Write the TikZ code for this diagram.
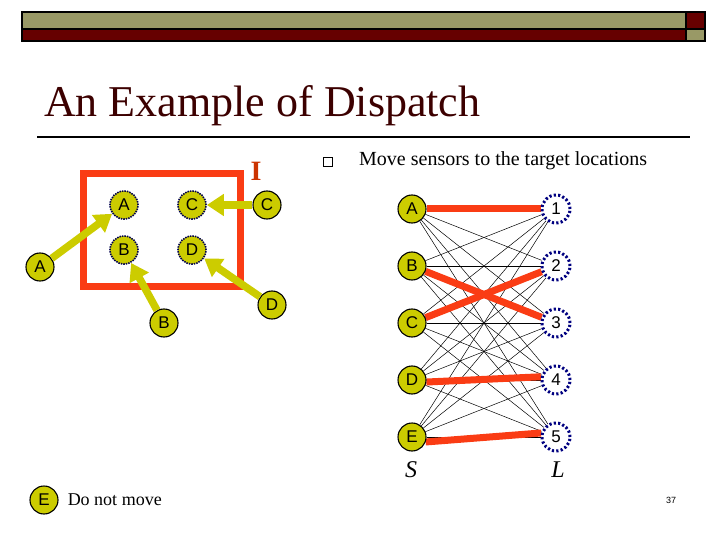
\documentclass[tikz,border=0pt]{standalone}
\usepackage{fontspec}
\setmainfont{Liberation Serif}
\setsansfont{Liberation Sans}
\usetikzlibrary{positioning,arrows.meta,backgrounds}
\definecolor{hdOlive}{RGB}{153,153,102}
\definecolor{hdMaroon}{RGB}{102,0,0}
\definecolor{dTitle}{RGB}{60,0,0}
\definecolor{dOrange}{RGB}{250,60,20}
\definecolor{dRust}{RGB}{204,51,0}
\definecolor{dYellow}{RGB}{204,204,0}
\definecolor{dNavy}{RGB}{0,0,128}
\tikzset{
  bar/.style={draw=black, line width=1.2pt},
  sensor/.style={circle, draw=black, fill=dYellow, line width=1.1pt,
                 minimum size=28pt, inner sep=0pt,
                 font=\sffamily\fontsize{17}{17}\selectfont},
  target/.style={sensor, draw=dNavy!60!black, line width=1.6pt,
                 dash pattern=on 1.5pt off 1pt},
  loc/.style={circle, draw=dNavy, fill=white, line width=3pt,
              dash pattern=on 2.2pt off 2.2pt, minimum size=28pt, inner sep=0pt,
              font=\sffamily\fontsize{17}{17}\selectfont},
  zone/.style={rectangle, draw=dOrange, line width=7pt,
               minimum width=157pt, minimum height=113pt},
  move/.style={-{Triangle[length=17pt,width=21pt]}, draw=dYellow, line width=7.5pt},
  link/.style={draw=black, line width=0.5pt},
  pick/.style={draw=dOrange, line width=7pt},
  txt/.style={inner sep=0pt, anchor=base west},
}

\begin{document}
\begin{tikzpicture}[x=1pt, y=-1pt]
  \useasboundingbox (0,0) rectangle (720,540);
  % header bars
  \draw[bar, fill=hdOlive] (22,12) rectangle (686,29);
  \draw[bar, fill=hdMaroon] (22,29) rectangle (686,41);
  \draw[bar, fill=hdMaroon] (686,12) rectangle (705,29);
  \draw[bar, fill=hdOlive] (686,29) rectangle (705,41);

  \node[txt, text=dTitle, font=\fontsize{44}{44}\selectfont] (title) at (44,117)
    {An Example of Dispatch};
  \draw[line width=1.6pt] (37,137) -- (690,137);

  % region I with sensors moving in
  \node[zone] (zone) at (161.5,230) {};
  \node[text=dRust, font=\bfseries\fontsize{28}{28}\selectfont, inner sep=0pt]
    (reg) at (256,171) {I};
  \node[target] (iA) at (124,205) {A};
  \node[target] (iC) at (192,205) {C};
  \node[target] (iB) at (124,250) {B};
  \node[target] (iD) at (192,250) {D};
  \node[sensor] (oA) at (40,267) {A};
  \node[sensor] (oB) at (164,323) {B};
  \node[sensor] (oC) at (267,205) {C};
  \node[sensor] (oD) at (272,305) {D};
  \draw[move] (oA) -- (iA);
  \draw[move] (oB) -- (iB);
  \draw[move] (oC) -- (iC);
  \draw[move] (oD) -- (iD);

  \node[sensor] (still) at (44,500) {E};
  \node[txt, anchor=west, font=\fontsize{18}{18}\selectfont, right=9pt of still]
    (keep) {Do not move};

  % matching S -> L
  \node[draw, line width=0.6pt, minimum size=9pt, inner sep=0pt] (bul) at (328,162) {};
  \node[txt, font=\fontsize{20}{20}\selectfont] (task) at (359,166)
    {Move sensors to the target locations};
  \foreach \s [count=\i] in {A,B,C,D,E}
    \node[sensor] (s\s) at (412,152+57*\i) {\s};
  \foreach \i in {1,...,5}
    \node[loc] (l\i) at (556,152+57*\i) {\i};
  \node[font=\itshape\fontsize{24}{24}\selectfont, inner sep=0pt] (setS) at (411,470) {S};
  \node[font=\itshape\fontsize{24}{24}\selectfont, inner sep=0pt] (setL) at (558,470) {L};

  \begin{scope}[on background layer]
    \foreach \s in {A,B,C,D,E}
      \foreach \t in {1,...,5}
        \draw[link] (s\s) -- (l\t);
    \draw[pick] (sA) -- (l1);
    \draw[pick] (sB) -- (l3);
    \draw[pick] (sC) -- (l2);
    \draw[pick] (sD.-8) -- (l4.168);
    \draw[pick] (sE.-20) -- (l5.165);
  \end{scope}

  \node[font=\sffamily\fontsize{9}{9}\selectfont] (page) at (671,500) {37};
\end{tikzpicture}
\end{document}
